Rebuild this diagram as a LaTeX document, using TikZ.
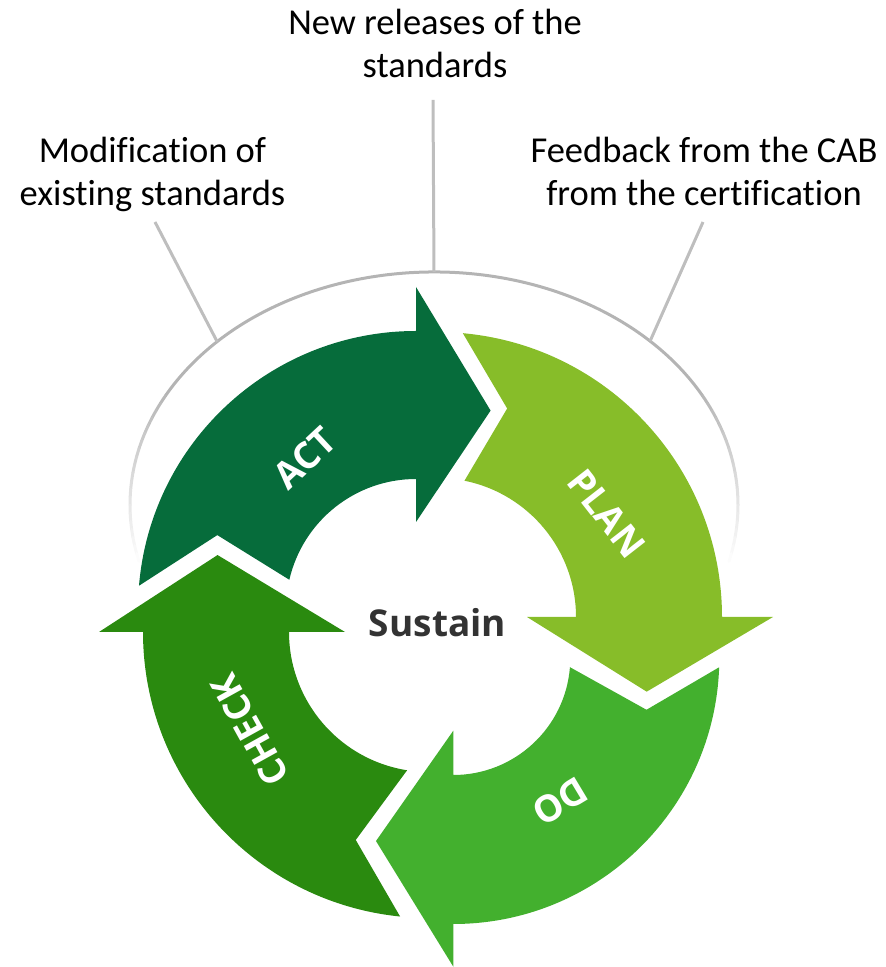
\documentclass[tikz,border=0pt]{standalone}
\usepackage{fontspec}
\setmainfont{Carlito}[Ligatures=NoCommon]
\newfontfamily\osansb{Open Sans}
\usetikzlibrary{calc}
\definecolor{actc}{HTML}{066C3B}
\definecolor{planc}{HTML}{87BD29}
\definecolor{doc}{HTML}{43B02E}
\definecolor{checkc}{HTML}{2A8A0F}
\definecolor{arcgray}{HTML}{B4B4B4}
\definecolor{linegray}{HTML}{BEBEBE}
\definecolor{sustc}{HTML}{333333}
\begin{document}
\begin{tikzpicture}[x=1pt,y=1pt,
  lbl/.style={anchor=base, inner sep=0pt, font=\fontsize{36.5}{43}\selectfont, text=black},
  conn/.style={draw=linegray, line width=3pt},
  steplbl/.style={text=white, font=\osansb\bfseries\fontsize{37}{40}\selectfont, inner sep=0pt},
  arcline/.style={line width=3pt, line cap=round},
]
\useasboundingbox (0,0) rectangle (886,967);

% ---- gray arc (ellipse) ----
\coordinate (E) at (434,462);
\draw[arcline, arcgray] ([shift={(150:304 and 233)}]E) arc[start angle=150, end angle=30, x radius=304, y radius=233];
\foreach \i in {0,...,21} {
  \pgfmathtruncatemacro\p{100-100*\i/22}
  \pgfmathsetmacro\a{150+2*\i}
  \pgfmathsetmacro\b{152+2*\i}
  \pgfmathsetmacro\c{30-2*\i}
  \pgfmathsetmacro\d{28-2*\i}
  \draw[arcline, arcgray!\p!white] ([shift={(\a:304 and 233)}]E) arc[start angle=\a, end angle=\b, x radius=304, y radius=233];
  \draw[arcline, arcgray!\p!white] ([shift={(\c:304 and 233)}]E) arc[start angle=\c, end angle=\d, x radius=304, y radius=233];
}
\coordinate (aL) at ([shift={(135.5:304 and 233)}]E);
\coordinate (aM) at ([shift={(90:304 and 233)}]E);
\coordinate (aR) at ([shift={(44.7:304 and 233)}]E);
\coordinate (tL) at (155,745);
\coordinate (tM) at (433,867);
\coordinate (tR) at (703,745);
\draw[conn] (tL) -- (aL);
\draw[conn] (tM) -- (aM);
\draw[conn] (tR) -- (aR);

% ---- labels ----
\node[lbl] (top) at (435,932) {\begin{tabular}[t]{@{}c@{}}New releases of the\\standards\end{tabular}};
\node[lbl] (left) at (152.5,804) {\begin{tabular}[t]{@{}c@{}}Modification of\\existing standards\end{tabular}};
\node[lbl] (right) at (704,804) {\begin{tabular}[t]{@{}c@{}}Feedback from the CAB\\from the certification\end{tabular}};

% ---- ACT ----
\begin{scope}[shift={(416,358)}]
\fill[actc] (175.2:278) arc[start angle=175.2, end angle=90, radius=278] -- (90:322) -- (69.4:212) -- (90:87) -- (90:130) arc[start angle=90, end angle=167, radius=130] -- (159.6:212) -- cycle;
\end{scope}
% ---- PLAN ----
\begin{scope}[shift={(437,350)}]
\fill[planc] (84.8:285) arc[start angle=84.8, end angle=0, radius=285] -- (0:336) -- (-19.6:222.6) -- (0:90) -- (0:139) arc[start angle=0, end angle=78.6, radius=139] -- (71.4:220) -- cycle;
\end{scope}
% ---- CHECK ----
\begin{scope}[shift={(429,335)}]
\fill[checkc] (264.2:286) arc[start angle=264.2, end angle=180, radius=286] -- (180:330) -- (160:225) -- (180:84) -- (180:140) arc[start angle=180, end angle=261, radius=140] -- (250.6:220.5) -- cycle;
\end{scope}
% ---- DO ----
\begin{scope}[shift={(453.3,309)}]
\fill[doc] (-2:266) arc[start angle=-2, end angle=-90, radius=266] -- (-90:308.7) -- (-112.9:198.7) -- (-90:72.7) -- (-90:117) arc[start angle=-90, end angle=-4.5, radius=117] -- (-15:200) -- cycle;
\end{scope}

\node[steplbl, rotate=43] (lact) at (305,509) {ACT};
\node[steplbl, rotate=-52] (lplan) at (606.7,453.7) {PLAN};
\node[steplbl, rotate=119] (lcheck) at (250,237) {CHECK};
\node[steplbl, rotate=211] (ldo) at (560,165.3) {DO};

\node[font=\osansb\bfseries\fontsize{37}{40}\selectfont, text=sustc, anchor=base, inner sep=0pt] (sus) at (437.5,330.3) {Sustain};
\end{tikzpicture}
\end{document}
